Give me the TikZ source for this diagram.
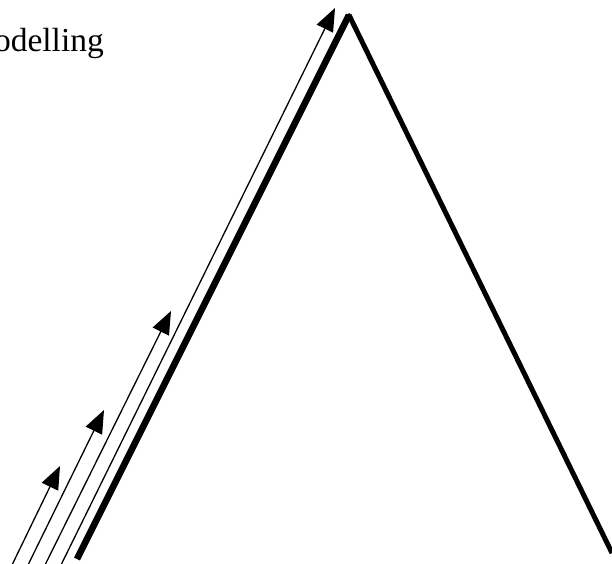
\documentclass[tikz,border=0pt]{standalone}
\usepackage{fontspec}
\setmainfont{Liberation Serif}
\usetikzlibrary{arrows.meta}
\begin{document}
\begin{tikzpicture}[x=1pt,y=-1pt,
  lside/.style={line width=6.5pt},
  rside/.style={line width=5pt},
  flow/.style={line width=1.3pt,-{Triangle[length=23pt,width=18pt]}},
  lbl/.style={font=\fontsize{33.5}{38}\selectfont,inner sep=0pt}]
\useasboundingbox (0,0) rectangle (612,563);
\coordinate (L) at (77,559);
\coordinate (T) at (349,15);
\coordinate (R) at (612,553);
\draw[lside] (L) -- (T);
\draw[rside] (T) -- (R);
\fill (T) ++(-3.2,1.6) -- ++(3.2,-3.5) -- ++(2.3,1.3) -- cycle;
\coordinate (a1) at (12,565);  \coordinate (b1) at (60,466);
\coordinate (a2) at (28,565);  \coordinate (b2) at (104,410);
\coordinate (a3) at (45,565);  \coordinate (b3) at (171,311);
\coordinate (a4) at (61,565);  \coordinate (b4) at (335,8);
\draw[flow] (a1) -- (b1);
\draw[flow] (a2) -- (b2);
\draw[flow] (a3) -- (b3);
\draw[flow] (a4) -- (b4);
\node[lbl,anchor=base east] (t) at (104,51) {Modelling};
\end{tikzpicture}
\end{document}
